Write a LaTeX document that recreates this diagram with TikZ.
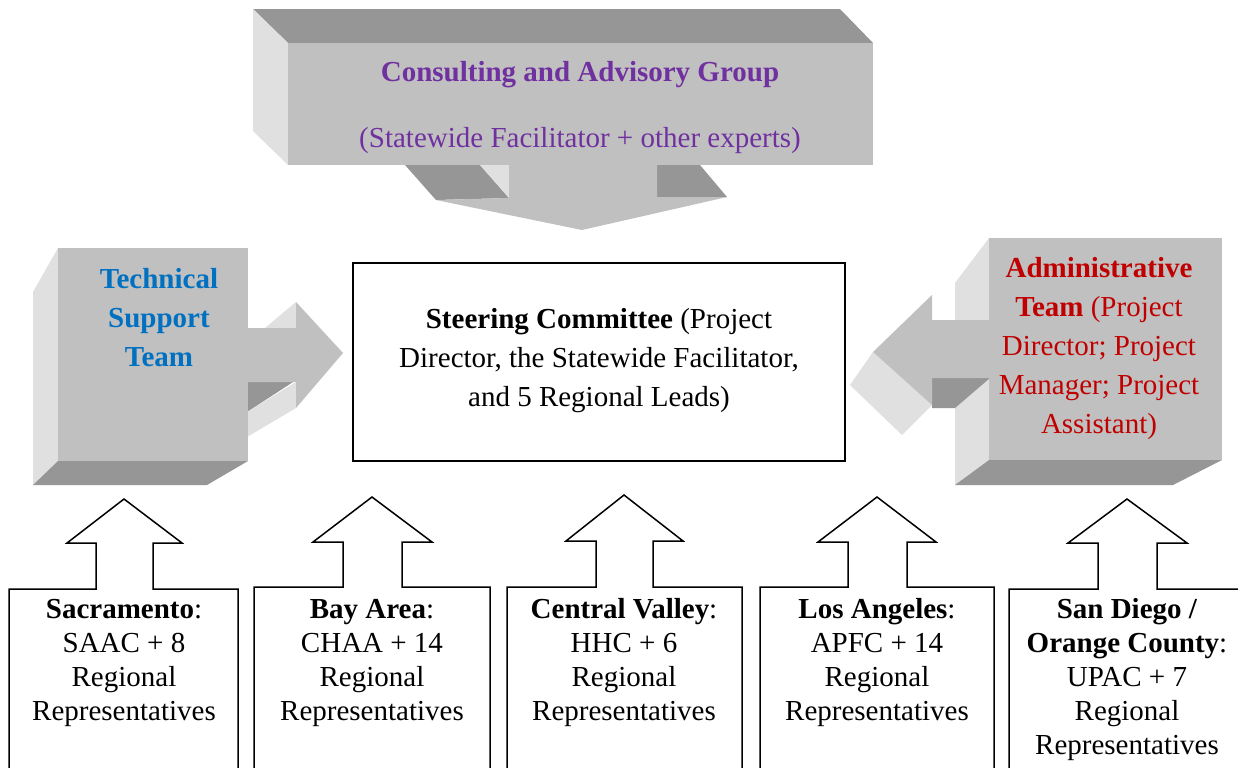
\documentclass[tikz,border=0pt]{standalone}
\usepackage{fontspec}
\setmainfont{Liberation Serif}
\definecolor{facefront}{HTML}{C0C0C0}
\definecolor{facedark}{HTML}{969696}
\definecolor{facelight}{HTML}{E0E0E0}
\definecolor{cpurple}{HTML}{7030A0}
\definecolor{cblue}{HTML}{0070C0}
\definecolor{cred}{HTML}{C00000}
\begin{document}
\begin{tikzpicture}[x=0.5pt,y=-0.5pt,
  frontface/.style={fill=facefront},
  darkface/.style={fill=facedark},
  lightface/.style={fill=facelight},
  outline/.style={draw=black, line width=0.75pt, fill=white, line join=miter},
  txt/.style={font=\fontsize{14.5}{17}\selectfont, align=center, inner sep=0pt},
  widetxt/.style={font=\fontsize{14.5}{19.5}\selectfont, align=center, inner sep=0pt}]
\useasboundingbox (0,0) rectangle (1238,767);
\fill[white] (0,0) rectangle (1238,767);
\clip (0,0) rectangle (1238,767);

% ---------- Consulting and Advisory Group (3D block with down arrow)
\fill[darkface] (253,9) -- (840,9) -- (873,43) -- (288,43) -- cycle;
\fill[lightface] (253,9) -- (288,43) -- (288,165) -- (253,131) -- cycle;
\fill[darkface] (405,165) -- (480,165) -- (509,198) -- (436,200) -- cycle;
\fill[lightface] (480,165) -- (509,165) -- (509,198) -- cycle;
\fill[darkface] (657,165) -- (700,165) -- (727,197) -- (657,197) -- cycle;
\fill[frontface] (288,43) rectangle (873,165);
\fill[frontface] (509,164) -- (657,164) -- (657,197) -- (727,197) -- (582,230) -- (436,200) -- (509,198) -- cycle;
\node[txt, text=cpurple, font=\fontsize{14.5}{17}\selectfont\bfseries] (cag) at (580,75) {Consulting and Advisory Group};
\node[txt, text=cpurple] (cagsub) at (580,141) {(Statewide Facilitator + other experts)};

% ---------- Technical Support Team (3D block with right arrow)
\fill[lightface] (58,248) -- (33,292) -- (33,485) -- (58,461) -- cycle;
\fill[darkface] (33,485) -- (58,461) -- (248,461) -- (207,485) -- cycle;
\fill[darkface] (247,382) -- (293,382) -- (247,412) -- cycle;
\fill[lightface] (247,412) -- (296,382) -- (296,408) -- (247,437) -- cycle;
\fill[lightface] (265,328) -- (296,302) -- (296,328) -- cycle;
\fill[frontface] (58,248) rectangle (248,461);
\fill[frontface] (247,328) -- (296,328) -- (296,302) -- (343,353) -- (296,408) -- (296,382) -- (247,382) -- cycle;
\node[widetxt, text=cblue, font=\fontsize{14.5}{19.5}\selectfont\bfseries] (tst) at (159,318) {Technical\\Support\\Team};

% ---------- Administrative Team (3D block with left arrow)
\fill[lightface] (989,238) -- (955,283) -- (955,485) -- (989,460) -- cycle;
\fill[darkface] (955,485) -- (989,460) -- (1222,460) -- (1173,485) -- cycle;
\fill[darkface] (932,378) -- (990,378) -- (955,408) -- (932,408) -- cycle;
\fill[lightface] (873,352) -- (850,385) -- (902,435) -- (932,405) -- cycle;
\fill[frontface] (989,238) rectangle (1222,460);
\fill[frontface] (990,320) -- (932,320) -- (932,295) -- (873,352) -- (932,405) -- (932,378) -- (990,378) -- cycle;
\node[widetxt, text=cred] (adm) at (1099,349) {\textbf{Administrative}\\\textbf{Team} (Project\\Director; Project\\Manager; Project\\Assistant)};

% ---------- Steering Committee
\node[draw=black, line width=0.9pt, minimum width=246pt, minimum height=99pt, inner sep=0pt] (sc) at (599,362) {};
\node[widetxt] (sctext) at (599,361) {\textbf{Steering Committee} (Project\\Director, the Statewide Facilitator,\\and 5 Regional Leads)};

% ---------- Regional boxes with up arrows
\draw[outline] (9,790) -- (9,589) -- (96,589) -- (96,543) -- (67,543) -- (124,499) -- (182,543) -- (153,543) -- (153,589) -- (238,589) -- (238,790);
\draw[outline] (254,790) -- (254,587) -- (343,587) -- (343,542) -- (313,542) -- (372,497) -- (432,542) -- (402,542) -- (402,587) -- (490,587) -- (490,790);
\draw[outline] (507,790) -- (507,587) -- (596,587) -- (596,541) -- (566,541) -- (624,495) -- (683,541) -- (653,541) -- (653,587) -- (742,587) -- (742,790);
\draw[outline] (760,790) -- (760,587) -- (848,587) -- (848,542) -- (818,542) -- (877,497) -- (936,542) -- (907,542) -- (907,587) -- (994,587) -- (994,790);
\draw[outline] (1009,790) -- (1009,589) -- (1098,589) -- (1098,543) -- (1068,543) -- (1127,499) -- (1187,543) -- (1157,543) -- (1157,589) -- (1260,589) -- (1260,790);

\node[txt] (sac) at (124,663) {\textbf{Sacramento}:\\SAAC + 8\\Regional\\Representatives};
\node[txt] (bay) at (372,663) {\textbf{Bay Area}:\\CHAA + 14\\Regional\\Representatives};
\node[txt] (cv) at (624,663) {\textbf{Central Valley}:\\HHC + 6\\Regional\\Representatives};
\node[txt] (la) at (877,663) {\textbf{Los Angeles}:\\APFC + 14\\Regional\\Representatives};
\node[txt] (sd) at (1127,680) {\textbf{San Diego /}\\\textbf{Orange County}:\\UPAC + 7\\Regional\\Representatives};
\end{tikzpicture}
\end{document}
